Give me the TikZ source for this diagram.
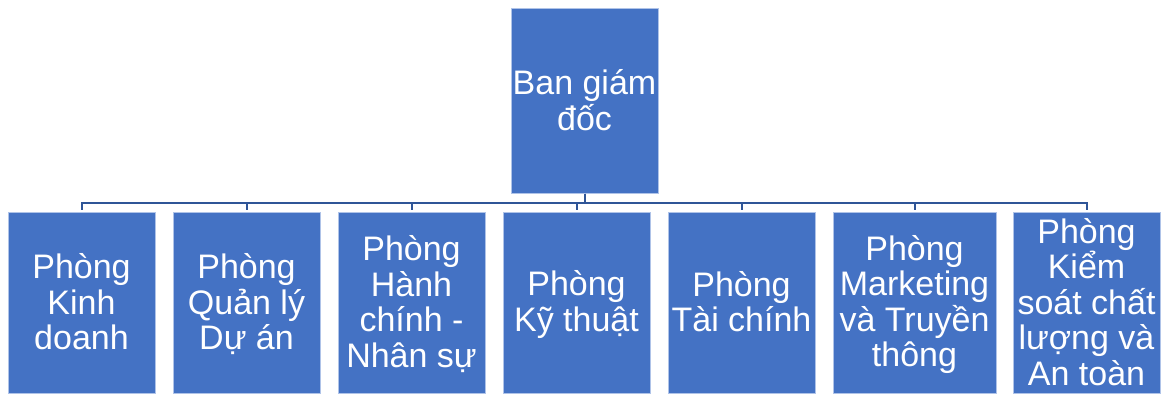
\documentclass[tikz,border=0pt]{standalone}
\usepackage{fontspec}
\setmainfont{Liberation Sans}
\definecolor{boxfill}{RGB}{68,114,196}
\definecolor{boxline}{RGB}{175,195,232}
\definecolor{conn}{RGB}{47,85,151}
\newcommand{\fl}{\rule[-6pt]{0pt}{35pt}}
\newcommand{\ls}{\rule[-6pt]{0pt}{29pt}}
\begin{document}
\begin{tikzpicture}[x=1pt,y=-1pt,
  box/.style={rectangle, fill=boxfill, draw=boxline, line width=0.8pt, inner sep=0pt,
    text=white, align=center, font=\fontsize{34}{35.5}\selectfont},
  link/.style={draw=conn, line width=2pt}]
\useasboundingbox (0,0) rectangle (1161,396);
\node[box, minimum width=147pt, minimum height=185pt] (top) at (584.5,101) {\fl Ban giám\\\ls đốc};
\node[box, minimum width=147pt, minimum height=181pt] (c1) at (81.5,302.5) {\fl Phòng\\Kinh\\\ls doanh};
\node[box, minimum width=147pt, minimum height=181pt] (c2) at (246.5,302.5) {\fl Phòng\\Quản lý\\\ls Dự án};
\node[box, minimum width=147pt, minimum height=181pt] (c3) at (411.5,302.5) {\fl Phòng\\Hành\\chính -\\\ls Nhân sự};
\node[box, minimum width=147pt, minimum height=181pt] (c4) at (576.5,302.5) {\fl Phòng\\\ls Kỹ thuật};
\node[box, minimum width=147pt, minimum height=181pt] (c5) at (741.5,302.5) {\fl Phòng\\\ls Tài chính};
\node[box, minimum width=163pt, minimum height=181pt] (c6) at (914.5,302.5) {\fl Phòng\\Marketing\\và Truyền\\\ls thông};
\node[box, minimum width=147pt, minimum height=181pt] (c7) at (1086.5,302.5) {\fl Phòng\\Kiểm\\soát chất\\lượng và\\\ls An toàn};
\coordinate (bus) at (584.5,203);
\foreach \c in {c1,c2,c3,c4,c5,c6,c7}{
  \draw[link] (top.south) -- (bus) -| ([yshift=2pt]\c.north);
}
\end{tikzpicture}
\end{document}
